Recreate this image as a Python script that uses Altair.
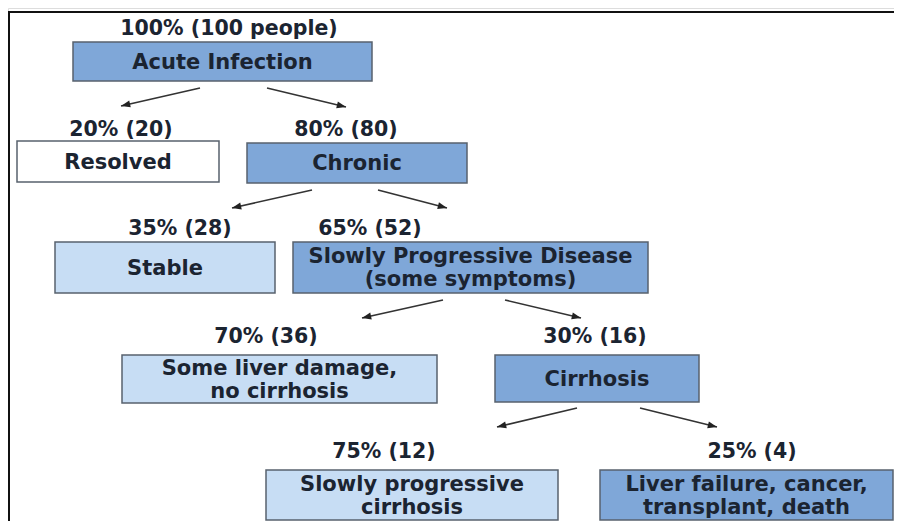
import math
import altair as alt
import pandas as pd

# ---------------- data ----------------
node_labels = [
    "Acute Infection",
    "Resolved",
    "Chronic",
    "Stable",
    "Slowly Progressive Disease\n(some symptoms)",
    "Some liver damage,\nno cirrhosis",
    "Cirrhosis",
    "Slowly progressive\ncirrhosis",
    "Liver failure, cancer,\ntransplant, death",
]
node_percent = [100, 20, 80, 35, 65, 70, 30, 75, 25]
node_people = [100, 20, 80, 28, 52, 36, 16, 12, 4]
node_parent = [None, 0, 0, 2, 2, 4, 4, 6, 6]
node_status = ["progressing", "resolved", "progressing", "stable", "progressing",
               "stable", "progressing", "stable", "progressing"]

# ---------------- layout (page pixel positions) ----------------
box_x0 = [73, 17, 247, 55, 293, 122, 495, 266, 600]
box_x1 = [372, 219, 467, 275, 648, 437, 699, 558, 893]
box_y0 = [42, 141, 143, 242, 242, 355, 355, 470, 470]
box_y1 = [81, 182, 183, 293, 293, 403, 402, 520, 520]
line_gap = [0, 0, 0, 0, 23, 23, 0, 23, 23]
pct_x = [229, 121, 346, 180, 370, 266, 595, 384, 752]
pct_y = [29, 130, 130, 229, 229, 337, 337, 452, 452]
arrow_x0 = [None, 200, 267, 312, 378, 443, 505, 577, 640]
arrow_y0 = [None, 88, 88, 190, 190, 300, 300, 408, 408]
arrow_x1 = [None, 121, 346, 232, 447, 362, 581, 497, 717]
arrow_y1 = [None, 106, 107, 208, 208, 318, 318, 427, 427]

W, H = 886, 513
OFF = 8

nodes = pd.DataFrame({
    "status": node_status,
    "x0": box_x0, "x1": box_x1, "y0": box_y0, "y1": box_y1,
    "px": pct_x, "py": pct_y,
    "pct": [f"{p}% ({n} people)" if par is None else f"{p}% ({n})"
            for p, n, par in zip(node_percent, node_people, node_parent)],
})

rows = []
for i, lab in enumerate(node_labels):
    parts = lab.split("\n")
    cx = (box_x0[i] + box_x1[i]) / 2
    cy = (box_y0[i] + box_y1[i]) / 2
    for k, part in enumerate(parts):
        rows.append({"text": part, "x": cx,
                     "y": cy + (k - (len(parts) - 1) / 2) * line_gap[i]})
lines = pd.DataFrame(rows)

edges = []
for i, par in enumerate(node_parent):
    if par is None:
        continue
    dx = arrow_x1[i] - arrow_x0[i]
    dy = arrow_y1[i] - arrow_y0[i]
    ang = math.degrees(math.atan2(dx, -dy)) % 360
    edges.append({"x0": arrow_x0[i], "y0": arrow_y0[i],
                  "x1": arrow_x1[i], "y1": arrow_y1[i], "angle": ang})
edges = pd.DataFrame(edges)

frame = pd.DataFrame({"x0": [8, 9], "x1": [894, 9], "y0": [12, 11], "y1": [12, 521]})

xs = alt.Scale(domain=[OFF, OFF + W], nice=False, zero=False)
ys = alt.Scale(domain=[OFF, OFF + H], nice=False, zero=False, reverse=True)

def X(f):
    return alt.X(f"{f}:Q", scale=xs, axis=None)

def Y(f):
    return alt.Y(f"{f}:Q", scale=ys, axis=None)

frame_l = alt.Chart(frame).mark_rule(color="#111111", strokeWidth=2).encode(
    x=X("x0"), x2="x1", y=Y("y0"), y2="y1")

boxes = alt.Chart(nodes).mark_rect(stroke="#58626d", strokeWidth=1.5).encode(
    x=X("x0"), x2="x1", y=Y("y0"), y2="y1",
    fill=alt.Fill("status:N", legend=None,
                  scale=alt.Scale(domain=["progressing", "stable", "resolved"],
                                  range=["#7fa7d8", "#c7ddf4", "#ffffff"])))

box_text = alt.Chart(lines).mark_text(
    font="DejaVu Sans", fontWeight="bold", fontSize=21, color="#1b2431",
    baseline="middle", align="center", dy=1
).encode(x=X("x"), y=Y("y"), text="text:N")

pct_text = alt.Chart(nodes).mark_text(
    font="DejaVu Sans", fontWeight="bold", fontSize=20.5, color="#1b2431",
    baseline="middle", align="center"
).encode(x=X("px"), y=Y("py"), text="pct:N")

arrow_lines = alt.Chart(edges).mark_rule(color="#333333", strokeWidth=1.6).encode(
    x=X("x0"), x2="x1", y=Y("y0"), y2="y1")

heads = alt.Chart(edges).mark_point(
    shape="M0,0 L-0.38,1 L0.38,1 Z", filled=True, color="#222222",
    size=340, opacity=1, strokeWidth=0
).encode(x=X("x1"), y=Y("y1"), angle=alt.Angle("angle:Q", scale=None))

chart = alt.layer(frame_l, boxes, box_text, pct_text, arrow_lines, heads).properties(
    width=W, height=H, padding=0, autosize=alt.AutoSizeParams(type="none")
).configure_view(stroke=None).configure(background="white")

chart.save("out.html", embed_options={"renderer": "svg", "actions": False})
